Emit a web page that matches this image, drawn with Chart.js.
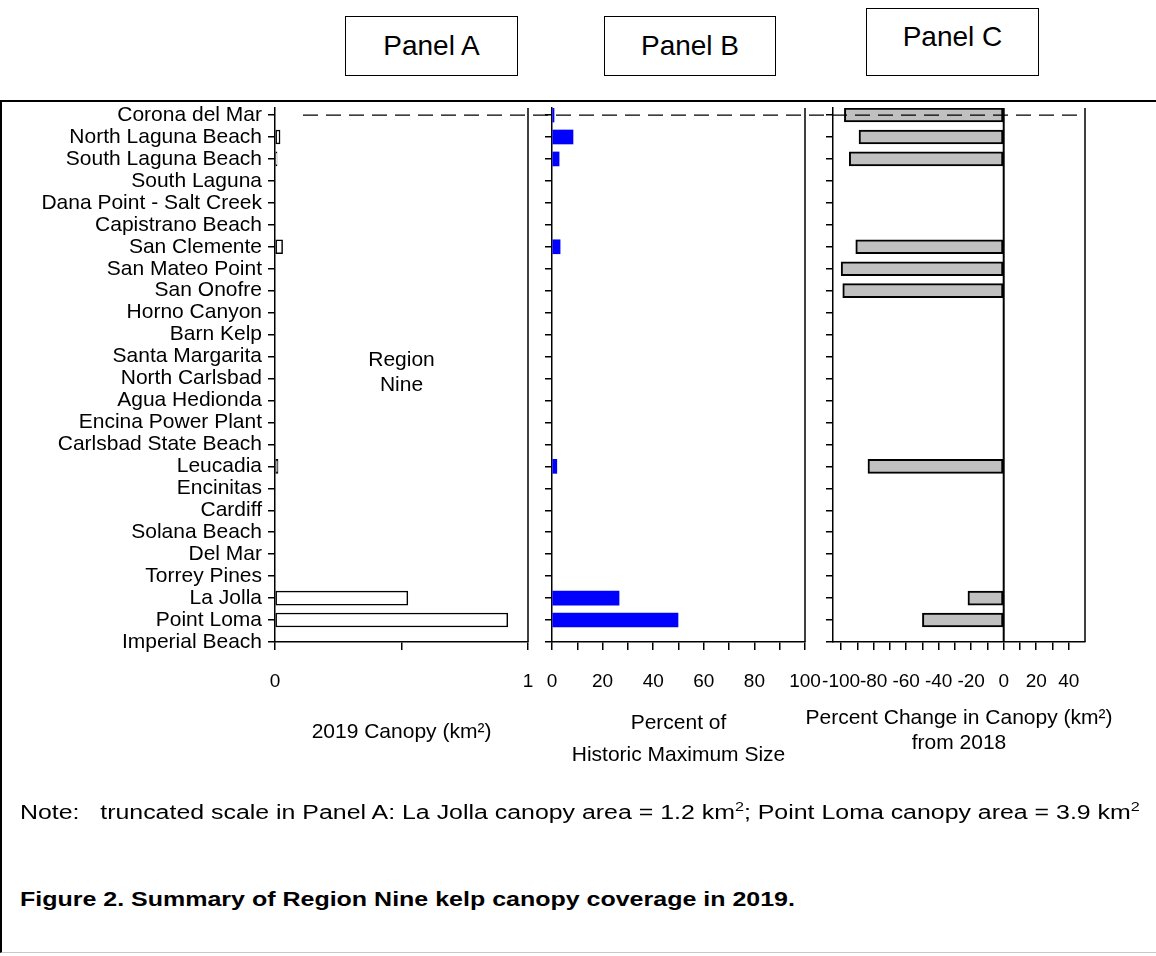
<!DOCTYPE html>
<html>
<head>
<meta charset="utf-8">
<title>Region Nine kelp canopy 2019</title>
<script src="https://cdn.jsdelivr.net/npm/chart.js@4.4.2/dist/chart.umd.min.js"></script>
<style>
  body { margin: 0; background: #fff; font-family: "Liberation Sans", Arial, sans-serif; color: #000; }
  #page { position: relative; width: 1156px; height: 956px; overflow: hidden; }
  .tag { position: absolute; border: 1px solid #000; box-sizing: border-box; background: #fff;
         font-size: 28px; display: flex; align-items: center; justify-content: center; }
  #frame { position: absolute; left: 0; top: 100px; width: 1170px; height: 853px; box-sizing: border-box;
           border-left: 2px solid #000; border-top: 2px solid #000; border-bottom: 1px solid #c8c8c8; }
  canvas.panel { position: absolute; left: 0; top: 0; }
  #note { position: absolute; left: 20px; top: 799px; font-size: 20px; white-space: pre;
          transform: scaleX(1.245); transform-origin: 0 0; }
  #note sup { font-size: 13px; }
  #caption { position: absolute; left: 20px; top: 887px; font-size: 21px; font-weight: bold;
             transform: scaleX(1.19); transform-origin: 0 0; }
</style>
</head>
<body>
<div id="page">
  <div class="tag" style="left:345px; top:16px; width:173px; height:60px;">Panel A</div>
  <div class="tag" style="left:604px; top:16px; width:172px; height:60px;">Panel B</div>
  <div class="tag" style="left:866px; top:8px; width:173px; height:68px; padding-bottom:10px;">Panel C</div>
  <div id="frame"></div>
  <canvas id="chartA" class="panel" width="1156" height="800"></canvas>
  <canvas id="chartB" class="panel" width="1156" height="800"></canvas>
  <canvas id="chartC" class="panel" width="1156" height="800"></canvas>
  <div id="note">Note:   truncated scale in Panel A: La Jolla canopy area = 1.2 km<sup>2</sup>; Point Loma canopy area = 3.9 km<sup>2</sup></div>
  <div id="caption">Figure 2. Summary of Region Nine kelp canopy coverage in 2019.</div>
</div>

<script>
// ---------- DATA ----------
const sites = [
  "Corona del Mar", "North Laguna Beach", "South Laguna Beach", "South Laguna",
  "Dana Point - Salt Creek", "Capistrano Beach", "San Clemente", "San Mateo Point",
  "San Onofre", "Horno Canyon", "Barn Kelp", "Santa Margarita", "North Carlsbad",
  "Agua Hedionda", "Encina Power Plant", "Carlsbad State Beach", "Leucadia",
  "Encinitas", "Cardiff", "Solana Beach", "Del Mar", "Torrey Pines", "La Jolla",
  "Point Loma", "Imperial Beach"
];

// Panel A: 2019 canopy (km2), truncated scale 0-1
const canopy2019 = [
  null, 0.02, 0.008, null, null, null, 0.03, null, null, null, null, null, null,
  null, null, null, 0.012, null, null, null, null, null, 0.525, 0.92, null
];

// Panel B: percent of historic maximum size
const pctHistoricMax = [
  0.8, 8.3, 2.8, null, null, null, 3.2, null, null, null, null, null, null,
  null, null, null, 1.9, null, null, null, null, null, 26.5, 49.8, null
];

// Panel C: percent change in canopy from 2018
const pctChange = [
  -98, -89, -95, null, null, null, -91, -100, -99, null, null, null, null,
  null, null, null, -83.5, null, null, null, null, null, -22, -50, null
];

const ticksA = [0, 0.5, 1];
const ticksB = [0, 10, 20, 30, 40, 50, 60, 70, 80, 90, 100];
const ticksC = [-100, -90, -80, -70, -60, -50, -40, -30, -20, -10, 0, 10, 20, 30, 40];

// ---------- HELPERS ----------
const BLACK = "#000";
const FONT = '"Liberation Sans", Arial, sans-serif';

function toPoints(values) {
  return values
    .map((v, i) => (v === null ? null : { x: v, y: i }))
    .filter(p => p !== null);
}

function siteAxis(showLabels, width) {
  return {
    type: "linear",
    reverse: true,
    min: -0.32,
    max: 24,
    offset: false,
    afterBuildTicks: s => { s.ticks = sites.map((_, i) => ({ value: i })); },
    afterFit: s => { s.width = width; },
    ticks: {
      display: showLabels, padding: 6, color: BLACK, autoSkip: false,
      font: { family: FONT, size: 21 },
      callback: v => sites[v]
    },
    grid: { offset: false, drawOnChartArea: false, drawTicks: true, tickLength: 7, color: BLACK, lineWidth: 1.5 },
    border: { color: BLACK, width: 1.5 }
  };
}

function valueAxis(min, max, tickValues, labelFn) {
  return {
    type: "linear",
    min, max,
    afterBuildTicks: s => { s.ticks = tickValues.map(value => ({ value })); },
    afterFit: s => { s.height = 158; },
    ticks: {
      padding: 20, color: BLACK, autoSkip: false, maxRotation: 0,
      font: { family: FONT, size: 19 },
      callback: labelFn
    },
    grid: { drawOnChartArea: false, drawTicks: true, tickLength: 8, color: BLACK, lineWidth: 1.5 },
    border: { color: BLACK, width: 1.5 }
  };
}

// right-hand frame line, axis title, and optional zero line / text / dashed line
const panelExtras = {
  id: "panelExtras",
  afterDraw(chart, args, opts) {
    const { ctx, chartArea: a, scales: { x, y } } = chart;
    const cx = (a.left + a.right) / 2;
    ctx.save();
    ctx.strokeStyle = BLACK;
    ctx.lineWidth = 1.5;
    ctx.beginPath();
    ctx.moveTo(a.right, a.top);
    ctx.lineTo(a.right, a.bottom);
    ctx.stroke();

    if (opts.zeroLine) {
      const zx = x.getPixelForValue(0);
      ctx.lineWidth = 2;
      ctx.beginPath();
      ctx.moveTo(zx, a.top);
      ctx.lineTo(zx, a.bottom);
      ctx.stroke();
    }

    ctx.fillStyle = BLACK;
    ctx.font = "21px " + FONT;
    ctx.textAlign = "center";
    ctx.textBaseline = "middle";
    if (opts.text) {
      opts.text.forEach((line, i) => ctx.fillText(line, cx, opts.textY + i * 25));
    }
    if (opts.title) {
      opts.title.lines.forEach((line, i) =>
        ctx.fillText(line, cx, opts.title.y + i * opts.title.lineHeight));
    }

    if (opts.dashed) {
      const dy = y.getPixelForValue(opts.dashed.at);
      ctx.setLineDash([15, 8]);
      ctx.lineWidth = 1.3;
      ctx.beginPath();
      ctx.moveTo(opts.dashed.from, dy);
      ctx.lineTo(opts.dashed.to, dy);
      ctx.stroke();
    }
    ctx.restore();
  }
};

function makeChart(id, dataset, xAxis, yAxis, padding, extras) {
  return new Chart(document.getElementById(id), {
    type: "bar",
    data: { datasets: [Object.assign({ barThickness: 14, borderSkipped: false }, dataset)] },
    options: {
      indexAxis: "y",
      responsive: false,
      animation: false,
      events: [],
      layout: { padding },
      plugins: { legend: { display: false }, tooltip: { enabled: false }, panelExtras: extras },
      scales: { x: xAxis, y: yAxis }
    },
    plugins: [panelExtras]
  });
}

// ---------- PANEL A ----------
makeChart("chartA",
  { data: toPoints(canopy2019), backgroundColor: "#fff", borderColor: BLACK, borderWidth: 1.5 },
  valueAxis(0, 1, ticksA, v => (v === 0.5 ? "" : String(v))),
  siteAxis(true, 275),
  { top: 108, left: 0, right: 628, bottom: 0 },
  { text: ["Region", "Nine"], textY: 360, title: { lines: ["2019 Canopy (km²)"], y: 732, lineHeight: 0 } }
);

// ---------- PANEL B ----------
makeChart("chartB",
  { data: toPoints(pctHistoricMax), backgroundColor: "#0000ff", borderWidth: 0 },
  valueAxis(0, 100, ticksB, v => (v % 20 === 0 ? String(v) : "")),
  siteAxis(false, 10),
  { top: 108, left: 542, right: 351, bottom: 0 },
  { title: { lines: ["Percent of", "Historic Maximum Size"], y: 723, lineHeight: 32 } }
);

// ---------- PANEL C ----------
makeChart("chartC",
  { data: toPoints(pctChange), backgroundColor: "#c0c0c0", borderColor: BLACK, borderWidth: 2 },
  valueAxis(-105, 50, ticksC, v => (v % 20 === 0 ? String(v) : "")),
  siteAxis(false, 10),
  { top: 108, left: 823, right: 71, bottom: 0 },
  { zeroLine: true, dashed: { at: 0, from: 303, to: 1082 },
    title: { lines: ["Percent Change in Canopy (km²)", "from 2018"], y: 718, lineHeight: 25 } }
);
</script>
</body>
</html>
